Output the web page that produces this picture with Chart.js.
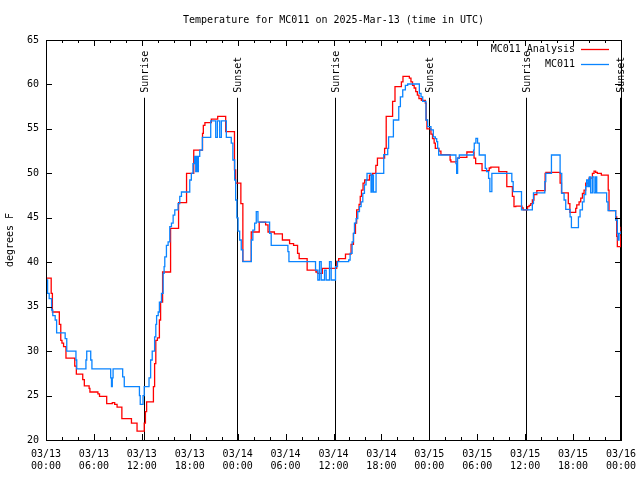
<!DOCTYPE html>
<html>
<head>
<meta charset="utf-8">
<title>Temperature for MC011</title>
<script src="https://cdn.jsdelivr.net/npm/chart.js@4.4.1/dist/chart.umd.min.js"></script>
<style>
  html, body { margin: 0; padding: 0; background: #fff; }
  #chart { display: block; }
</style>
</head>
<body>
<canvas id="chart" width="640" height="480"></canvas>
<script>
const FONT = '"DejaVu Sans Mono", monospace';
const titleText = 'Temperature for MC011 on 2025-Mar-13 (time in UTC)';
const yAxisTitle = 'degrees F';

// x values are hours since 03/13 00:00 UTC
const analysisHours = [0, 0.65, 0.8, 1.67, 1.85, 2.0, 2.2, 2.5, 3.6, 3.8, 4.6, 4.8, 5.4, 5.5, 6.5, 6.7, 7.6, 8.3, 8.6, 8.9,
  9.5, 10.7, 11.4, 12.3, 12.45, 12.6, 13.45, 13.6, 13.75, 13.95, 14.2, 14.35, 14.6, 15.6, 16.6, 17.6, 18.5, 19.6, 19.7, 19.9,
  20.7, 21.5, 22.5, 23.6, 23.75, 24.4, 24.65, 25.7, 26.7, 27.5, 27.8, 28.6, 29.6, 30.5, 31.0, 31.5, 31.7, 32.7, 33.8, 34.0,
  34.6, 36.4, 36.65, 37.5, 38.2, 38.5, 38.75, 38.9, 39.2, 39.35, 39.5, 39.7, 39.9, 40.5, 40.9, 41.3, 41.5, 42.4, 42.6, 43.4,
  43.7, 44.5, 44.7, 45.5, 45.7, 45.9, 46.1, 46.3, 46.5, 46.7, 47.0, 47.5, 47.6, 47.7, 48.2, 48.4, 48.6, 48.75, 49.2, 49.45,
  50.6, 50.7, 51.5, 51.75, 52.7, 53.6, 53.8, 54.6, 55.5, 55.7, 56.7, 57.7, 58.4, 58.6, 58.83, 59.6, 59.75, 60.3, 60.5, 60.7,
  60.9, 61.1, 61.46, 62.5, 62.6, 64.375, 64.55, 65.4, 65.6, 66.33, 66.46, 66.75, 66.96, 67.17, 67.375, 67.58, 68.0, 68.42, 68.625, 68.83,
  69.04, 69.54, 70.4, 70.5, 71.33, 71.46, 71.54, 71.96, 72];
const analysisTemps = [38.2, 36.5, 34.4, 33.0, 31.2, 30.9, 30.5, 29.2, 28.3, 27.4, 26.8, 26.1, 25.8, 25.4, 25.2, 24.9, 24.1, 24.2, 24.0, 23.7,
  22.4, 21.9, 21.0, 21.9, 23.2, 24.3, 26.0, 28.6, 31.2, 31.5, 33.5, 35.5, 38.9, 43.8, 46.7, 50.0, 52.6, 54.5, 55.4, 55.7,
  56.1, 56.4, 54.7, 50.4, 48.9, 46.6, 40.1, 43.4, 44.5, 44.2, 43.4, 43.2, 42.5, 42.1, 41.9, 41.0, 40.4, 39.1, 38.9, 38.75,
  39.3, 40.1, 40.4, 40.9, 42.0, 43.25, 44.4, 45.9, 46.5, 47.4, 48.1, 48.9, 49.25, 49.8, 50.0, 50.9, 51.7, 52.8, 56.4, 58.1,
  59.75, 60.3, 60.9, 60.7, 60.3, 59.9, 59.6, 59.2, 58.8, 58.4, 58.2, 57.9, 56.0, 55.0, 54.4, 53.9, 53.4, 52.8, 52.5, 52.1,
  51.5, 51.3, 51.7, 51.8, 52.4, 51.7, 51.1, 50.3, 50.6, 50.7, 50.2, 48.5, 47.4, 46.25, 46.3, 46.1, 45.9, 46.25, 46.4, 46.6,
  47.0, 47.6, 48.05, 50.0, 50.1, 48.9, 47.8, 46.6, 45.6, 46.05, 46.45, 46.8, 47.2, 47.75, 48.1, 48.9, 49.45, 50.0, 50.25, 50.1,
  50.0, 49.8, 48.1, 45.8, 45.1, 42.9, 41.75, 42.9, 44.0];

const obsHours = [0, 0.2, 0.4, 0.7, 0.85, 1.15, 1.33, 2.4, 2.6, 3.75, 3.85, 5.0, 5.1, 5.6, 5.75, 8.1, 8.2, 8.3, 8.4, 9.6,
  9.8, 11.7, 11.8, 12.15, 12.3, 12.9, 13.1, 13.3, 13.6, 13.75, 13.85, 14.05, 14.2, 14.46, 14.67, 14.79, 14.875, 15.08, 15.29, 15.5,
  15.71, 15.92, 16.125, 16.54, 16.75, 16.96, 18.0, 18.2, 18.4, 18.6, 18.75, 18.83, 18.96, 19.08, 19.25, 19.58, 20.625, 21.25, 21.46, 21.75,
  21.96, 22.58, 23.2, 23.4, 23.625, 23.75, 23.9, 24.05, 24.25, 24.45, 24.65, 25.71, 25.9, 26.125, 26.33, 26.54, 28.0, 28.2, 30.29, 30.42,
  33.75, 34.04, 34.25, 34.46, 34.875, 35.08, 35.5, 35.71, 36.25, 36.5, 37.9, 38.08, 38.33, 38.5, 38.625, 38.83, 39.04, 39.25, 39.46, 39.67,
  39.875, 40.08, 40.2, 40.7, 40.83, 41.0, 41.33, 42.29, 42.79, 42.9, 43.5, 44.17, 44.375, 44.67, 45.0, 45.29, 46.75, 46.96, 47.17, 47.58,
  47.79, 48.2, 48.5, 48.75, 48.92, 49.04, 49.17, 51.33, 51.42, 51.54, 51.75, 53.54, 53.625, 53.83, 54.04, 54.25, 55.0, 55.17, 55.42, 55.58,
  55.83, 58.33, 58.5, 59.54, 60.9, 61.04, 62.46, 62.58, 63.29, 64.375, 64.58, 64.875, 65.08, 65.625, 65.79, 66.67, 66.875, 67.17, 67.375, 67.58,
  67.7, 67.875, 68.04, 68.2, 68.42, 68.625, 68.83, 68.96, 70.2, 70.375, 71.33, 71.54, 71.625, 71.75, 72];
const obsTemps = [38.0, 36.5, 35.9, 34.6, 34.0, 33.5, 32.05, 31.4, 30.0, 29.0, 28.0, 29.0, 30.0, 29.0, 28.0, 27.0, 26.0, 27.0, 28.0, 27.1,
  26.0, 25.0, 24.0, 25.0, 26.0, 27.0, 29.0, 30.0, 31.6, 33.0, 34.0, 34.4, 35.5, 36.5, 38.75, 39.5, 40.6, 41.9, 42.3, 44.0,
  44.4, 45.3, 45.9, 46.6, 47.4, 47.9, 49.25, 50.0, 51.1, 51.9, 50.2, 51.9, 50.2, 51.9, 52.6, 54.05, 55.9, 54.05, 55.9, 54.05,
  55.9, 54.05, 53.4, 51.5, 49.25, 47.0, 45.0, 43.5, 42.5, 41.4, 40.06, 42.5, 43.6, 44.4, 45.7, 44.5, 43.25, 41.9, 41.2, 40.06,
  39.1, 38.0, 40.06, 38.0, 39.1, 38.0, 40.06, 38.0, 39.5, 40.06, 40.25, 41.0, 42.3, 43.25, 44.4, 44.9, 45.7, 46.25, 46.8, 47.75,
  48.7, 49.25, 50.0, 47.9, 49.8, 47.9, 50.0, 52.1, 52.8, 54.1, 56.0, 57.5, 58.6, 59.4, 59.9, 60.05, 59.0, 58.6, 58.1, 56.0,
  55.25, 54.9, 54.1, 53.9, 53.56, 52.8, 52.06, 51.1, 50.0, 51.7, 52.06, 52.6, 53.4, 53.94, 53.4, 52.06, 50.56, 50.19, 49.44, 47.94,
  50.0, 49.06, 47.94, 45.9, 46.6, 47.8, 49.06, 50.0, 52.06, 50.0, 47.75, 47.0, 45.95, 45.1, 43.9, 45.1, 45.9, 46.8, 47.6, 48.5,
  49.25, 48.5, 49.6, 47.8, 49.6, 47.8, 49.6, 47.8, 46.8, 45.8, 44.75, 43.25, 42.5, 43.25, 43.5];

const sunLabels = ['Sunrise', 'Sunset', 'Sunrise', 'Sunset', 'Sunrise', 'Sunset'];
const sunHours = [12.25, 23.9, 36.17, 47.94, 60.1, 71.9];
const sunLineTop = 58.5;

const xMajorStep = 6;
const xMinorStep = 2;
const yMin = 20, yMax = 65, yStep = 5;

const zip = (xs, ys) => xs.map((x, i) => ({ x: x, y: ys[i] }));

const pad2 = n => (n < 10 ? '0' : '') + n;
const xLabel = h => {
  const day = 13 + Math.floor(h / 24);
  const hh = h % 24;
  return ['03/' + pad2(day), pad2(hh) + ':00'];
};

const decor = {
  id: 'decor',
  beforeDatasetsDraw(chart) {
    const { ctx, chartArea, scales } = chart;
    ctx.save();
    ctx.strokeStyle = '#000';
    ctx.lineWidth = 1;
    ctx.fillStyle = '#000';
    ctx.font = '10px ' + FONT;
    const yTop = scales.y.getPixelForValue(sunLineTop);
    sunHours.forEach((h, i) => {
      const x = Math.round(scales.x.getPixelForValue(h)) + 0.5;
      ctx.beginPath();
      ctx.moveTo(x, yTop);
      ctx.lineTo(x, chartArea.bottom);
      ctx.stroke();
      ctx.save();
      ctx.translate(x + 1, yTop - 5);
      ctx.rotate(-Math.PI / 2);
      ctx.textAlign = 'left';
      ctx.textBaseline = 'middle';
      ctx.fillText(sunLabels[i], 0, 0);
      ctx.restore();
    });
    ctx.restore();
  },
  afterDatasetsDraw(chart) {
    const { ctx, chartArea, scales } = chart;
    const { left, right, top, bottom } = chartArea;
    ctx.save();
    ctx.strokeStyle = '#000';
    ctx.lineWidth = 1;
    ctx.strokeRect(Math.round(left) + 0.5, Math.round(top) + 0.5, Math.round(right - left), Math.round(bottom - top));

    // inward ticks
    ctx.beginPath();
    for (let h = 0; h <= 72; h += xMinorStep) {
      const x = Math.round(scales.x.getPixelForValue(h)) + 0.5;
      const len = h % xMajorStep === 0 ? 6 : 3;
      ctx.moveTo(x, bottom);
      ctx.lineTo(x, bottom - len);
      ctx.moveTo(x, top);
      ctx.lineTo(x, top + len);
    }
    for (let v = yMin; v <= yMax; v += yStep) {
      const y = Math.round(scales.y.getPixelForValue(v)) + 0.5;
      ctx.moveTo(left, y);
      ctx.lineTo(left + 6, y);
      ctx.moveTo(right, y);
      ctx.lineTo(right - 6, y);
    }
    ctx.stroke();

    ctx.fillStyle = '#000';
    ctx.font = '10px ' + FONT;

    // title
    ctx.textAlign = 'center';
    ctx.textBaseline = 'middle';
    ctx.fillText(titleText, (left + right) / 2, 20);

    // y axis title
    ctx.save();
    ctx.translate(10, (top + bottom) / 2);
    ctx.rotate(-Math.PI / 2);
    ctx.fillText(yAxisTitle, 0, 0);
    ctx.restore();

    // legend, top right inside the plot
    chart.data.datasets.forEach((ds, i) => {
      const y = top + 9 + i * 15;
      ctx.textAlign = 'right';
      ctx.fillText(ds.label, right - 46, y);
      ctx.strokeStyle = ds.borderColor;
      ctx.lineWidth = 1.3;
      ctx.beginPath();
      ctx.moveTo(right - 40, Math.round(y) + 0.5);
      ctx.lineTo(right - 12, Math.round(y) + 0.5);
      ctx.stroke();
    });
    ctx.restore();
  }
};

new Chart(document.getElementById('chart'), {
  type: 'line',
  data: {
    datasets: [
      {
        label: 'MC011 Analysis',
        data: zip(analysisHours, analysisTemps),
        borderColor: '#ff0000',
        borderWidth: 1.3,
        pointRadius: 0,
        stepped: true,
        order: 1,
      },
      {
        label: 'MC011',
        data: zip(obsHours, obsTemps),
        borderColor: '#0a84ff',
        borderWidth: 1.3,
        pointRadius: 0,
        stepped: true,
        order: 0,
      },
    ],
  },
  options: {
    responsive: false,
    animation: false,
    devicePixelRatio: 1,
    layout: { padding: { top: 40, right: 19, left: 0, bottom: 0 } },
    plugins: {
      legend: { display: false },
      title: { display: false },
      tooltip: { enabled: false },
    },
    scales: {
      x: {
        type: 'linear',
        min: 0,
        max: 72,
        afterFit: s => { s.height = 40; s.paddingLeft = 0; s.paddingRight = 0; },
        grid: { display: false, drawTicks: false },
        border: { display: false },
        ticks: {
          stepSize: xMajorStep,
          autoSkip: false,
          maxRotation: 0,
          padding: 8,
          color: '#000',
          font: { family: FONT, size: 10, lineHeight: 1.25 },
          callback: v => xLabel(v),
        },
      },
      y: {
        min: yMin,
        max: yMax,
        afterFit: s => { s.width = 46; s.paddingTop = 0; s.paddingBottom = 0; },
        grid: { display: false, drawTicks: false },
        border: { display: false },
        ticks: {
          stepSize: yStep,
          padding: 7,
          color: '#000',
          font: { family: FONT, size: 10 },
        },
      },
    },
  },
  plugins: [decor],
});
</script>
</body>
</html>
